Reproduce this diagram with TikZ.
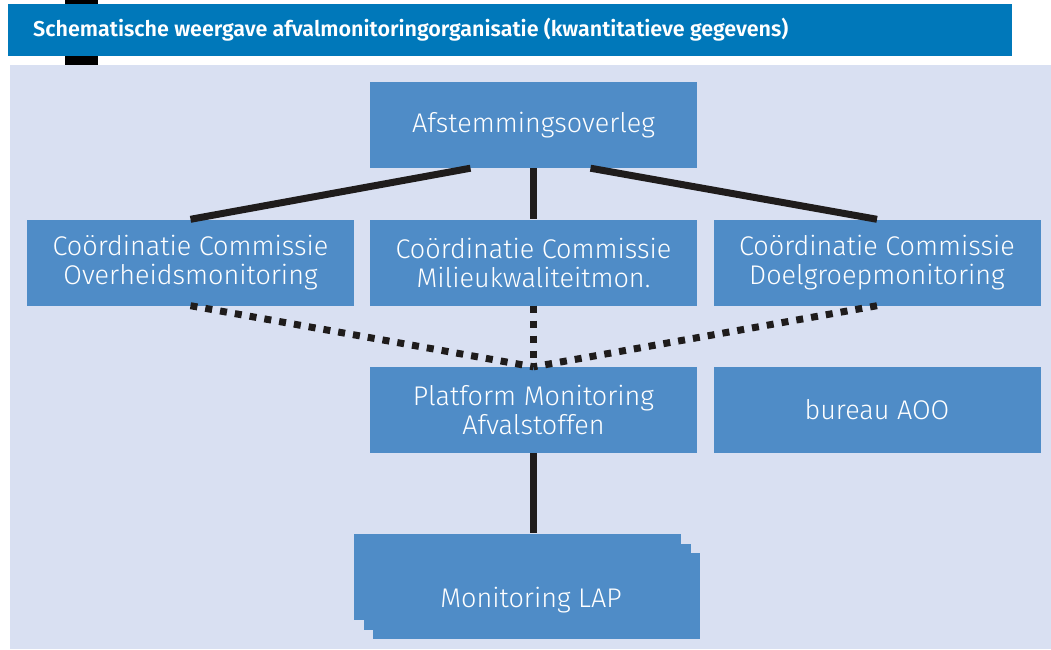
\documentclass[tikz,border=0pt]{standalone}
\usepackage{fontspec}
\setmainfont{Fira Sans}[UprightFont=* Light, BoldFont=* SemiBold]
\usepackage{tikz}
\usetikzlibrary{positioning, calc}
\definecolor{titleblue}{rgb}{0.0, 0.47, 0.73}
\definecolor{paleblue}{rgb}{0.85, 0.88, 0.95}
\definecolor{boxblue}{rgb}{0.31, 0.55, 0.78}
\definecolor{lineblack}{rgb}{0.12, 0.11, 0.11}

\begin{document}
\begin{tikzpicture}[x=1pt, y=-1pt]
			\tikzstyle{taskb}=[rectangle, draw=none, fill=boxblue, text=white, minimum width=327pt, minimum height=86pt, inner sep=0pt, align=center, font=\fontsize{27}{29}\selectfont]
			\tikzstyle{taskl}=[draw=none, fill=none, text=white, font=\fontsize{27}{29}\selectfont]
			\tikzstyle{link}=[line width=7pt, draw=lineblack]
			\tikzstyle{linkd}=[line width=7pt, draw=lineblack, dash pattern=on 7pt off 8pt]
			%%
			\useasboundingbox (0,0) rectangle (1051,649);
			\fill[paleblue] (10,65) rectangle (1051,649);
			\fill[black] (65,0) rectangle (98,65);
			\fill[titleblue] (8,4) rectangle (1012,56);
			\node (title) at (33,30) [anchor=west, text=white, inner sep=0pt, font=\fontsize{21.5}{24}\selectfont\bfseries] {Schematische weergave afvalmonitoringorganisatie (kwantitatieve gegevens)};
			%%
			\node (t01) at (533.5,125) [taskb] {Afstemmingsoverleg};
			\node (t11) at (190.5,262.5) [taskb] {Coördinatie Commissie\\Overheidsmonitoring};
			\node (t12) at (533.5,262.5) [taskb] {Coördinatie Commissie\\Milieukwaliteitmon.};
			\node (t13) at (877,262.5) [taskb] {Coördinatie Commissie\\Doelgroepmonitoring};
			\node (t21) at (533.5,410) [taskb] {Platform Monitoring\\Afvalstoffen};
			\node (t22) at (877,410) [taskb] {bureau AOO};
			
			\node (t31c) at (536.5,596) [taskb] {};
			\node (t31b) at (527.5,586.5) [taskb] {};
			\node (t31) at (517.5,576.5) [taskb] {};
			\node (l31) at (531,600) [taskl] {Monitoring LAP};
			
			\draw [link] ($(t01.south)+(-63,0)$) -- (t11.north);
			\draw [link] (t01.south) -- (t12.north);
			\draw [link] ($(t01.south)+(57,0)$) -- (t13.north);
			
			\draw [linkd] (t11.south) -- (t21.north);
			\draw [linkd] (t12.south) -- (t21.north);
			\draw [linkd] (t13.south) -- (t21.north);
			
			\draw [link] (t21.south) -- (t21.south |- t31.north);
			\end{tikzpicture}
\end{document}
